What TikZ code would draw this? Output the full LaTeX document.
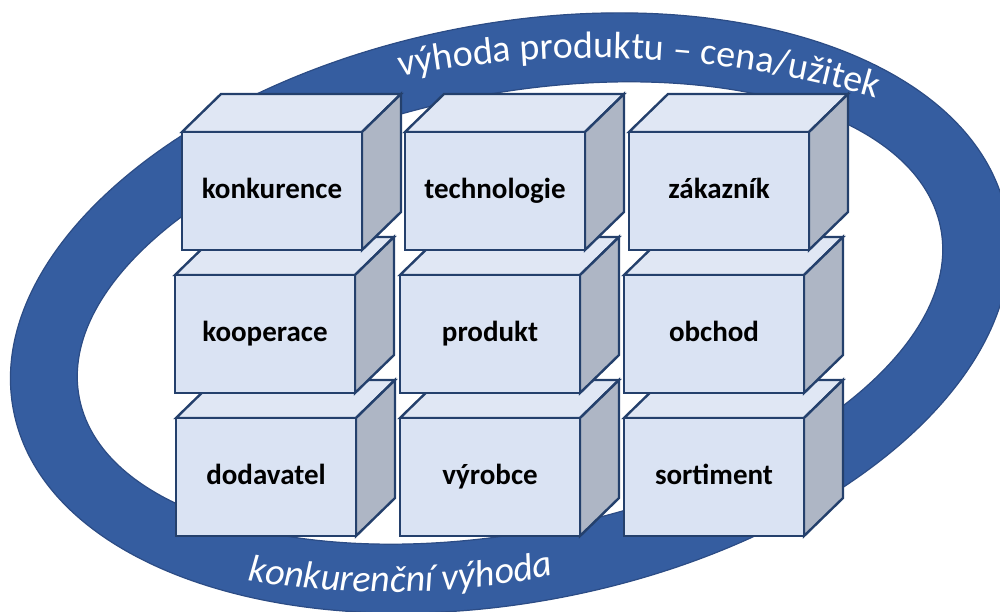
\documentclass[tikz,border=0pt]{standalone}
\usepackage{fontspec}
\setmainfont{Carlito}
\usetikzlibrary{decorations.text}
\definecolor{ringblue}{HTML}{355DA0}
\definecolor{ringedge}{HTML}{2C4C85}
\definecolor{frontc}{HTML}{DAE3F3}
\definecolor{topc}{HTML}{E0E7F4}
\definecolor{sidec}{HTML}{AEB6C5}
\definecolor{edgec}{HTML}{24406C}
\tikzset{
  boxline/.style={draw=edgec, line width=1.2pt, line join=miter},
  frontface/.style={boxline, fill=frontc, rectangle, minimum width=90pt, minimum height=59pt,
    inner sep=0pt, outer sep=0pt, anchor=north west, text height=10.5pt, text depth=3pt,
    font=\fontsize{14.5}{17}\selectfont\bfseries, text=black},
  topface/.style={boxline, fill=topc},
  sideface/.style={boxline, fill=sidec},
  ringtext/.style={decorate, decoration={text along path, text align=center, text color=white, text={#1}}},
}
\newcommand\cuboid[4]{%
  \coordinate (#1-nw) at (#2,{611-#3});
  \draw[topface] (#1-nw) -- ++(39,38) -- ++(180,0) -- ++(-39,-38) -- cycle;
  \draw[sideface] (#1-nw) ++(180,0) -- ++(39,38) -- ++(0,-118) -- ++(-39,-38) -- cycle;
  \node[frontface] (#1) at (#1-nw) {#4};
}
\begin{document}
\begin{tikzpicture}[x=0.5pt, y=0.5pt]
\useasboundingbox (0,0) rectangle (1000,611);
\begin{scope}
  \clip (0,0) rectangle (1000,611);
  \begin{scope}[shift={(510,298)}, rotate=11.2]
    \path[fill=ringblue, draw=ringedge, line width=0.6pt, even odd rule]
      (0,0) ellipse [x radius=253pt, y radius=144.5pt]
      (0,0) ellipse [x radius=219.5pt, y radius=109.5pt];
  \end{scope}
\end{scope}
\coordinate (topc) at (594,-455);
\coordinate (botc) at (386,860);
\path[ringtext={|\fontsize{19}{22}\selectfont|výhoda produktu – cena/užitek}]
  (topc) ++(104.9:504pt) arc[start angle=104.9, end angle=69.9, radius=504pt];
\path[ringtext={|\fontsize{19}{22}\selectfont\itshape|konkurenční výhoda}]
  (botc) ++(254:420.5pt) arc[start angle=254, end angle=288, radius=420.5pt];
% bottom row
\cuboid{dod}{176}{418}{dodavatel}
\cuboid{vyr}{400}{418}{výrobce}
\cuboid{sor}{624}{418}{sortiment}
% middle row
\cuboid{koo}{175}{275}{kooperace}
\cuboid{pro}{400}{275}{produkt}
\cuboid{obc}{624}{275}{obchod}
% top row
\cuboid{kon}{182}{132}{konkurence}
\cuboid{tec}{405}{132}{technologie}
\cuboid{zak}{629}{132}{zákazník}
\end{tikzpicture}
\end{document}
